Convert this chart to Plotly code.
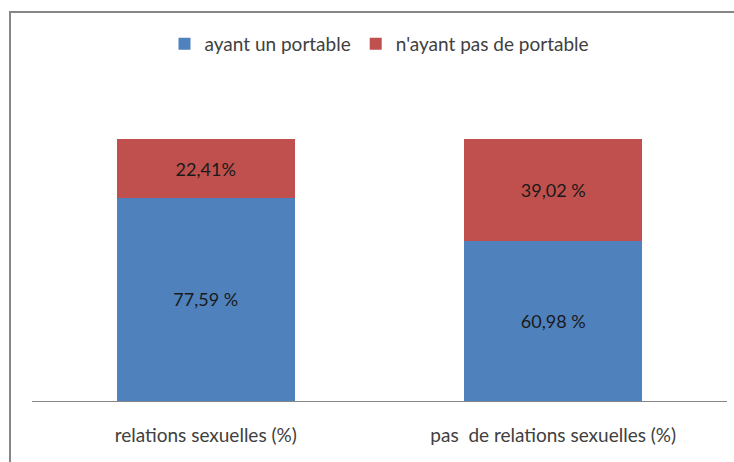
import plotly.graph_objects as go

categories = ["relations sexuelles (%)", "pas  de relations sexuelles (%)"]
series_names = ["ayant un portable", "n'ayant pas de portable"]
with_phone = [77.59, 60.98]
without_phone = [22.41, 39.02]
with_phone_labels = ["77,59 %", "60,98 %"]
without_phone_labels = ["22,41%", "39,02 %"]

W, H = 734, 462
ml, mr, mt, mb = 32, 7, 87, 61
pw, ph = W - ml - mr, H - mt - mb

FONT = "Lato"
FS = 18
FS_TXT = 19
fig = go.Figure()
fig.add_trace(go.Bar(
    x=categories, y=with_phone, name=series_names[0],
    marker=dict(color="#4F81BD", line=dict(width=0)),
    text=with_phone_labels, texttemplate="%{text}",
    textposition="inside", insidetextanchor="middle",
    textfont=dict(family=FONT, size=FS, color="#1a1a1a"),
))
fig.add_trace(go.Bar(
    x=categories, y=without_phone, name=series_names[1],
    marker=dict(color="#C0504D", line=dict(width=0)),
    text=without_phone_labels, texttemplate="%{text}",
    textposition="inside", insidetextanchor="middle",
    textfont=dict(family=FONT, size=FS, color="#1a1a1a"),
))

def px(x):
    return (x - ml) / pw

def py(y):
    return (H - mb - y) / ph

fig.add_shape(type="rect", xref="paper", yref="paper",
              x0=px(10), x1=px(745), y0=py(475), y1=py(12),
              line=dict(color="#868686", width=2), fillcolor="rgba(0,0,0,0)")

fig.update_layout(
    width=W, height=H,
    margin=dict(l=ml, r=mr, t=mt, b=mb),
    barmode="stack", bargap=0.488,
    plot_bgcolor="white", paper_bgcolor="white",
    font=dict(family=FONT, size=FS_TXT, color="#404040"),
    showlegend=True,
    legend=dict(orientation="h", x=0.5, xanchor="center", y=py(44), yanchor="middle",
                font=dict(family=FONT, size=FS_TXT, color="#404040"),
                itemwidth=30, traceorder="normal", bgcolor="rgba(0,0,0,0)"),
    xaxis=dict(showline=True, linecolor="#868686", linewidth=1, showgrid=False,
               ticks="outside", ticklen=17, tickcolor="rgba(0,0,0,0)",
               tickfont=dict(family=FONT, size=FS_TXT, color="#404040"), fixedrange=True),
    yaxis=dict(range=[0, 120], visible=False, showgrid=False, fixedrange=True),
)
fig.write_html("out.html", config={"displayModeBar": False},
               post_script="document.body.style.margin='0';")
